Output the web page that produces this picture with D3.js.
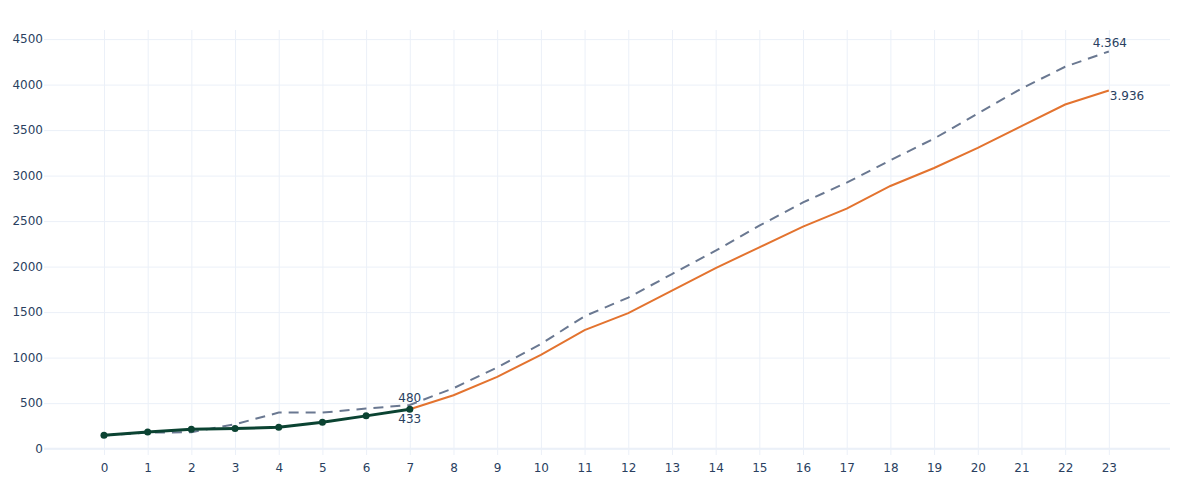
<!DOCTYPE html>
<html lang="en">
<head>
  <meta charset="UTF-8">
  <title>Cumulative line chart</title>
  <script src="https://d3js.org/d3.v7.min.js"></script>
  <style>
    body {
      margin: 0;
      background: #fff;
      font-family: "DejaVu Sans", Verdana, sans-serif;
    }
    .grid line {
      stroke: #ebf0f8;
      stroke-width: 1;
    }
    .grid path {
      display: none;
    }
    .axis path,
    .axis line {
      display: none;
    }
    .axis text {
      fill: #2a3f5f;
      font-size: 12px;
      font-family: "DejaVu Sans", Verdana, sans-serif;
    }
    .pt-label {
      fill: #2a3f5f;
      font-size: 12px;
    }
  </style>
</head>
<body>
  <div id="chart"></div>
  <script>
    // x categories (hour index)
    const hours = d3.range(0, 24);

    // actual values, hours 0..7
    const actual = [147, 183, 213, 220, 235, 290, 360, 433];

    // forecast, hours 7..23
    const forecastHours = d3.range(7, 24);
    const forecast = [433, 587, 789, 1031, 1302, 1489, 1735, 1984, 2212, 2439,
                      2637, 2886, 3084, 3304, 3543, 3781, 3936];

    // comparison (dashed), hours 0..23
    const reference = [145, 176, 180, 268, 396, 396, 440, 480, 664, 891, 1150, 1455,
                       1660, 1918, 2175, 2450, 2705, 2923, 3169, 3407, 3682, 3957, 4196, 4364];

    const yTicks = [0, 500, 1000, 1500, 2000, 2500, 3000, 3500, 4000, 4500];

    const svgWidth = 1200;
    const svgHeight = 500;
    const margin = { top: 30, right: 30, bottom: 45, left: 44 };
    const width = svgWidth - margin.left - margin.right;
    const height = svgHeight - margin.top - margin.bottom;

    const xScale = d3.scaleLinear()
      .domain([-1.373, 24.4])
      .range([0, width]);

    const yScale = d3.scaleLinear()
      .domain([-70, 4600])
      .range([height, 0]);

    const fmt = d3.formatLocale({ decimal: ",", thousands: ".", grouping: [3], currency: ["", ""] }).format(",d");

    const svg = d3.select("#chart").append("svg")
      .attr("width", svgWidth)
      .attr("height", svgHeight)
      .append("g")
      .attr("transform", `translate(${margin.left},${margin.top})`);

    // grid
    svg.append("g")
      .attr("class", "grid")
      .call(d3.axisLeft(yScale).tickValues(yTicks).tickSize(-width).tickFormat(""));

    svg.append("g")
      .attr("class", "grid")
      .attr("transform", `translate(0, ${height})`)
      .call(d3.axisBottom(xScale).tickValues(hours).tickSize(height).tickFormat(""))
      .selectAll(".tick line")
      .attr("y2", -height);

    // zero line
    svg.append("line")
      .attr("x1", 0).attr("x2", width)
      .attr("y1", yScale(0)).attr("y2", yScale(0))
      .attr("stroke", "#ebf0f8")
      .attr("stroke-width", 2);

    // axes
    svg.append("g")
      .attr("class", "axis")
      .attr("transform", "translate(0,0)")
      .call(d3.axisLeft(yScale).tickValues(yTicks).tickSize(0).tickPadding(1).tickFormat(d3.format("d")));

    svg.append("g")
      .attr("class", "axis")
      .attr("transform", `translate(0, ${height})`)
      .call(d3.axisBottom(xScale).tickValues(hours).tickSize(0).tickPadding(8));

    const line = d3.line()
      .x(d => xScale(d[0]))
      .y(d => yScale(d[1]));

    // dashed comparison
    svg.append("path")
      .datum(hours.map((h, i) => [h, reference[i]]))
      .attr("fill", "none")
      .attr("stroke", "#6a7891")
      .attr("stroke-width", 2)
      .attr("stroke-dasharray", "10,7")
      .attr("d", line);

    // forecast
    svg.append("path")
      .datum(forecastHours.map((h, i) => [h, forecast[i]]))
      .attr("fill", "none")
      .attr("stroke", "#e3732f")
      .attr("stroke-width", 2)
      .attr("d", line);

    // actual
    const actualPts = actual.map((v, i) => [hours[i], v]);
    svg.append("path")
      .datum(actualPts)
      .attr("fill", "none")
      .attr("stroke", "#0b4332")
      .attr("stroke-width", 3)
      .attr("d", line);

    svg.selectAll(".dot")
      .data(actualPts)
      .enter()
      .append("circle")
      .attr("class", "dot")
      .attr("cx", d => xScale(d[0]))
      .attr("cy", d => yScale(d[1]))
      .attr("r", 3.5)
      .attr("fill", "#0b4332");

    // value labels
    const lastRef = reference[reference.length - 1];
    const lastFc = forecast[forecast.length - 1];
    const lastAct = actual[actual.length - 1];

    svg.append("text")
      .attr("class", "pt-label")
      .attr("x", xScale(7))
      .attr("y", yScale(reference[7]) - 3)
      .attr("text-anchor", "middle")
      .text(fmt(reference[7]));

    svg.append("text")
      .attr("class", "pt-label")
      .attr("x", xScale(7))
      .attr("y", yScale(lastAct) + 14)
      .attr("text-anchor", "middle")
      .text(fmt(lastAct));

    svg.append("text")
      .attr("class", "pt-label")
      .attr("x", xScale(23) + 1)
      .attr("y", yScale(lastRef) - 4)
      .attr("text-anchor", "middle")
      .text(fmt(lastRef));

    svg.append("text")
      .attr("class", "pt-label")
      .attr("x", xScale(23) + 1)
      .attr("y", yScale(lastFc) + 10)
      .attr("text-anchor", "start")
      .text(fmt(lastFc));
  </script>
</body>
</html>
